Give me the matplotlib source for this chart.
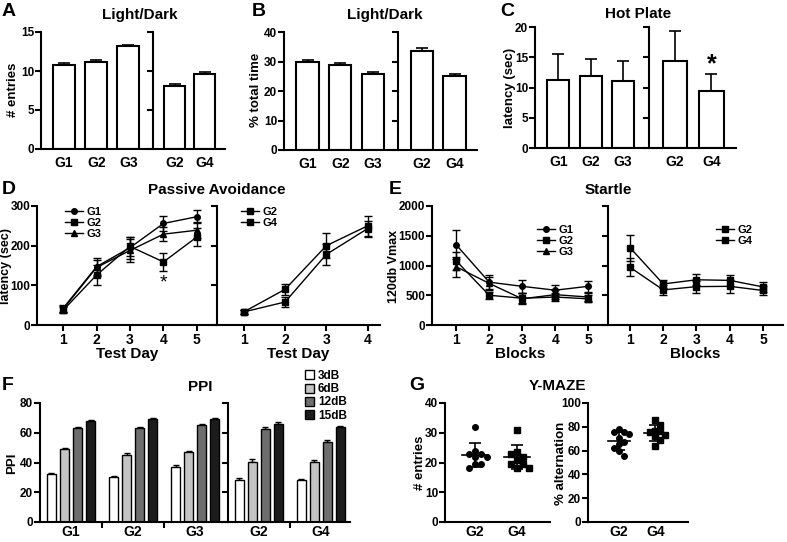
import numpy as np
import matplotlib
matplotlib.use('Agg')
import matplotlib.pyplot as plt
from matplotlib.patches import Patch

plt.rcParams['font.family'] = ['Liberation Sans', 'DejaVu Sans']
plt.rcParams['font.weight'] = 'bold'
plt.rcParams['axes.labelweight'] = 'bold'

# ---------------- data ----------------
grp3 = ['G1', 'G2', 'G3']
grp2 = ['G2', 'G4']

# A  Light/Dark  # entries
entries3 = [10.8, 11.2, 13.2]
entries3_err = [0.25, 0.25, 0.15]
entries2 = [8.1, 9.6]
entries2_err = [0.25, 0.25]

# B  Light/Dark  % total time
time3 = [29.8, 28.9, 25.9]
time3_err = [0.8, 0.6, 0.4]
time2 = [33.5, 25.2]
time2_err = [1.2, 0.5]

# C  Hot plate latency
hot3 = [11.3, 11.9, 11.0]
hot3_err = [4.2, 2.8, 3.3]
hot2 = [14.4, 9.4]
hot2_err = [5.0, 2.8]

# D  Passive avoidance
days5 = [1, 2, 3, 4, 5]
pa_g1 = [42, 147, 195, 256, 273]
pa_g1_err = [8, 23, 28, 18, 17]
pa_g2 = [37, 126, 198, 159, 222]
pa_g2_err = [8, 25, 25, 22, 22]
pa_g3 = [40, 145, 188, 229, 239]
pa_g3_err = [8, 20, 28, 18, 20]
days4 = [1, 2, 3, 4]
pa2_g2 = [33, 90, 200, 250]
pa2_g2_err = [5, 14, 31, 25]
pa2_g4 = [33, 58, 178, 243]
pa2_g4_err = [5, 13, 27, 20]

# E  Startle
blocks = [1, 2, 3, 4, 5]
st_g1 = [1350, 720, 650, 585, 650]
st_g1_err = [245, 120, 110, 90, 90]
st_g2 = [1080, 500, 450, 470, 440]
st_g2_err = [150, 60, 80, 60, 60]
st_g3 = [980, 700, 440, 510, 470]
st_g3_err = [170, 110, 90, 70, 70]
st2_g2 = [970, 590, 645, 650, 580]
st2_g2_err = [150, 80, 100, 110, 80]
st2_g4 = [1300, 690, 760, 750, 640]
st2_g4_err = [220, 60, 90, 90, 80]

# F  PPI
db_labels = ['3dB', '6dB', '12dB', '15dB']
db_colors = ['white', '#c4c4c4', '#6e6e6e', '#1c1c1c']
ppi3 = [[32, 30, 37], [49, 45, 47], [63, 63, 65], [68, 69, 69]]
ppi3_err = [[0.8, 0.8, 1.2], [1.0, 1.2, 1.0], [1.0, 1.2, 1.2], [0.8, 0.8, 0.8]]
ppi2 = [[28.5, 28], [40.5, 40.5], [62.5, 54], [66, 64]]
ppi2_err = [[1.2, 1.2], [1.8, 1.2], [1.2, 1.0], [1.2, 0.6]]

# G  Y-maze
ym_entries_g2 = [32, 24, 23, 23, 22, 22, 19.5, 19.5, 18]
ym_entries_g4 = [31, 23.5, 22, 23, 21, 19.5, 19.5, 18, 18]
ym_alt_g2 = [78, 75.6, 75.6, 73.6, 70.8, 66.9, 65.6, 62.5, 59.4, 55.8]
ym_alt_g4 = [85.8, 81.7, 76.7, 76.7, 75.6, 73.3, 71.9, 69.2, 63.6]

# ---------------- layout helpers ----------------
W, H = 787, 542
fig = plt.figure(figsize=(W / 100, H / 100), dpi=100)


def ax_px(x0, y0, x1, y1):
    return fig.add_axes([x0 / W, 1 - y1 / H, (x1 - x0) / W, (y1 - y0) / H])


def txt(x, y, s, size=10, **kw):
    fig.text(x / W, 1 - y / H, s, fontsize=size, fontweight='bold',
             ha=kw.pop('ha', 'center'), va=kw.pop('va', 'center'), **kw)


def style(ax, ylabels=True):
    for s in ['top', 'right']:
        ax.spines[s].set_visible(False)
    for s in ['left', 'bottom']:
        ax.spines[s].set_linewidth(1.5)
    ax.tick_params(axis='y', width=1.5, length=4, labelsize=8.5, pad=1)
    ax.tick_params(axis='x', width=1.5, length=4, labelsize=10, pad=2)
    if not ylabels:
        ax.set_yticklabels([])


def bars(ax, vals, errs, names, ymax, step, ylabels=True):
    x = np.arange(len(vals))
    ax.bar(x, vals, width=0.68, color='white', edgecolor='black', linewidth=1.5, zorder=2)
    ax.errorbar(x, vals, yerr=[np.zeros(len(vals)), errs], fmt='none', ecolor='black',
                elinewidth=1.2, capsize=4, capthick=1.2, zorder=1)
    ax.set_xlim(-0.72, len(vals) - 0.32)
    ax.set_ylim(0, ymax)
    ax.set_yticks(np.arange(0, ymax + 0.1, step))
    ax.set_xticks(x)
    ax.set_xticklabels(names)
    style(ax, ylabels)
    ax.tick_params(axis='x', length=0, pad=5)


# ---------------- A ----------------
a1 = ax_px(41, 32, 150, 149)
a2 = ax_px(153, 32, 225, 149)
bars(a1, entries3, entries3_err, grp3, 15, 5)
bars(a2, entries2, entries2_err, grp2, 15, 5, ylabels=False)
txt(2, 12, 'A', 14, ha='left')
txt(140, 15, 'Light/Dark', 11)
txt(13, 90, '# entries', 9.5, rotation=90)

# ---------------- B ----------------
b1 = ax_px(284, 32, 395, 150)
b2 = ax_px(398, 32, 477, 150)
bars(b1, time3, time3_err, grp3, 40, 10)
bars(b2, time2, time2_err, grp2, 40, 10, ylabels=False)
txt(252, 12, 'B', 14, ha='left')
txt(385, 15, 'Light/Dark', 11)
txt(256, 90, '% total time', 9.5, rotation=90)

# ---------------- C ----------------
c1 = ax_px(535, 27, 645, 148)
c2 = ax_px(649, 27, 736, 148)
bars(c1, hot3, hot3_err, grp3, 20, 5)
bars(c2, hot2, hot2_err, grp2, 20, 5, ylabels=False)
c2.text(1, hot2[1] + hot2_err[1] + 1.6, '*', fontsize=18, ha='center', va='center')
txt(500, 12, 'C', 14, ha='left')
txt(638, 14, 'Hot Plate', 11)
txt(510, 88, 'latency (sec)', 9.5, rotation=90)


# ---------------- line panels ----------------
def lines(ax, x, series, legend_xy):
    markers = {'G1': 'o', 'G2': 's', 'G3': '^', 'G4': 's'}
    for name, y, e in series:
        ax.errorbar(x, y, yerr=e, fmt='none', ecolor='black', elinewidth=1, capsize=3, capthick=1)
        ax.plot(x, y, color='black', lw=1, marker=markers[name], ms=4, label=name)
    style(ax)
    ax.legend(loc='upper left', bbox_to_anchor=(legend_xy[0] / W, 1 - legend_xy[1] / H),
              bbox_transform=fig.transFigure, frameon=False, fontsize=8,
              handlelength=1.6, handletextpad=0.3, labelspacing=0.1,
              borderpad=0, borderaxespad=0)


d1 = ax_px(37, 206, 217, 325)
d2 = ax_px(217, 206, 380, 325)
lines(d1, days5, [('G1', pa_g1, pa_g1_err), ('G2', pa_g2, pa_g2_err), ('G3', pa_g3, pa_g3_err)], (65, 207))
lines(d2, days4, [('G2', pa2_g2, pa2_g2_err), ('G4', pa2_g4, pa2_g4_err)], (241, 207))
for ax, n in [(d1, days5), (d2, days4)]:
    ax.set_ylim(0, 300)
    ax.set_yticks([0, 100, 200, 300])
    ax.set_xticks(n)
    ax.set_xlabel('Test Day', fontsize=11, labelpad=0)
d1.set_xlim(0.22, 5.6)
d2.set_xlim(0.35, 4.3)
d2.set_yticklabels([])
d1.text(4, 106, '*', fontsize=14, fontweight='normal', ha='center', va='center')
txt(2, 190, 'D', 14, ha='left')
txt(217, 190, 'Passive Avoidance', 11)
txt(6, 266, 'latency (sec)', 9, rotation=90)

e1 = ax_px(432, 206, 608, 325)
e2 = ax_px(608, 206, 783, 325)
lines(e1, blocks, [('G1', st_g1, st_g1_err), ('G2', st_g2, st_g2_err), ('G3', st_g3, st_g3_err)], (537, 225))
lines(e2, blocks, [('G2', st2_g2, st2_g2_err), ('G4', st2_g4, st2_g4_err)], (716, 225))
for ax in [e1, e2]:
    ax.set_ylim(0, 2000)
    ax.set_yticks([0, 500, 1000, 1500, 2000])
    ax.set_xticks(blocks)
    ax.set_xlabel('Blocks', fontsize=11, labelpad=0)
e1.set_xlim(0.27, 5.6)
e2.set_xlim(0.34, 5.6)
e2.set_yticklabels([])
txt(389, 190, 'E', 14, ha='left')
txt(608, 190, 'Startle', 11)
txt(394, 266, '120db Vmax', 9, rotation=90)


# ---------------- F ----------------
def ppi(ax, vals, errs, names, ylabels=True):
    n = len(names)
    for k in range(4):
        x = np.arange(n) + (k - 1.5) * 0.21
        ax.bar(x, vals[k], width=0.14, color=db_colors[k], edgecolor='black', linewidth=1, zorder=2)
        ax.errorbar(x, vals[k], yerr=[np.zeros(n), errs[k]], fmt='none', ecolor='black',
                    elinewidth=1, capsize=2.5, capthick=1, zorder=1)
    ax.set_ylim(0, 80)
    ax.set_yticks([0, 20, 40, 60, 80])
    ax.set_xticks(np.arange(n - 1) + 0.5)
    ax.set_xticklabels([])
    ax.set_xticks(np.arange(n), minor=True)
    ax.set_xticklabels(names, minor=True)
    style(ax, ylabels)
    ax.tick_params(axis='x', which='minor', length=0, labelsize=10, pad=2)


f1 = ax_px(40, 403, 228, 522)
f2 = ax_px(228, 403, 350, 522)
ppi(f1, ppi3, ppi3_err, grp3)
ppi(f2, ppi2, ppi2_err, grp2, ylabels=False)
f1.set_xlim(-0.5, 2.53)
f2.set_xlim(-0.5, 1.47)
handles = [Patch(facecolor=c, edgecolor='black', linewidth=1) for c in db_colors]
fig.legend(handles, db_labels, loc='upper left', bbox_to_anchor=(305 / W, 1 - 370 / H),
           frameon=False, fontsize=8.5, handlelength=0.8, handleheight=0.8,
           handletextpad=0.3, labelspacing=0.1, borderpad=0, borderaxespad=0)
txt(2, 386, 'F', 14, ha='left')
txt(200, 387, 'PPI', 11)
txt(12, 463, 'PPI', 9.5, rotation=90)


# ---------------- G ----------------
def swarm(vals, yscale, size=5.5, step=0.14):
    # simple beeswarm: push overlapping points sideways
    placed = []
    offs = []
    for v in vals:
        cand = [0.0]
        for i in range(1, 8):
            cand += [i * step, -i * step]
        for c in cand:
            if all(abs(c - px) * 42 >= size or abs(v - py) * yscale >= size for px, py in placed):
                break
        placed.append((c, v))
        offs.append(c)
    return np.array(offs)


def dots(ax, groups, yscale, ymax, step):
    for i, (vals, m) in enumerate(groups):
        v = np.array(vals)
        x = i + 1 + swarm(v, yscale)
        ax.plot(x, v, ls='none', marker=m, color='black', ms=4)
        mu, sd = v.mean(), v.std(ddof=1)
        ax.plot([i + 1 - 0.31, i + 1 + 0.31], [mu, mu], color='black', lw=1.2)
        ax.errorbar([i + 1], [mu], yerr=[sd], fmt='none', ecolor='black', elinewidth=1.2,
                    capsize=4, capthick=1.2)
    ax.set_xlim(0.29, 2.79)
    ax.set_ylim(0, ymax)
    ax.set_yticks(np.arange(0, ymax + 0.1, step))
    ax.set_xticks([1, 2])
    ax.set_xticklabels(grp2)
    style(ax)
    ax.tick_params(axis='x', length=0, pad=2)


g1 = ax_px(445, 403, 550, 522)
g2 = ax_px(588, 403, 688, 522)
dots(g1, [(ym_entries_g2, 'o'), (ym_entries_g4, 's')], 3.0, 40, 10)
dots(g2, [(ym_alt_g2, 'o'), (ym_alt_g4, 's')], 1.2, 100, 20)
g2.set_xlim(0.15, 2.9)
txt(409, 385, 'G', 14, ha='left')
txt(557, 386, 'Y-MAZE', 11)
txt(420, 463, '# entries', 9.5, rotation=90)
txt(561, 463, '% alternation', 9.5, rotation=90)

fig.savefig('out.png', dpi=100)
